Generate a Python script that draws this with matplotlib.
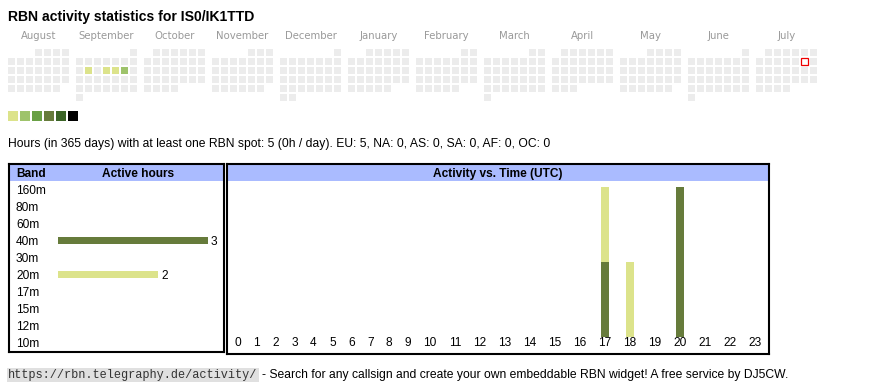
import datetime as dt
import numpy as np
import matplotlib
matplotlib.use('Agg')
import matplotlib.pyplot as plt
from matplotlib.patches import Rectangle

plt.rcParams['font.family'] = 'Liberation Sans'

W, H = 870, 390

callsign = 'IS0/IK1TTD'
months = ['August', 'September', 'October', 'November', 'December', 'January',
          'February', 'March', 'April', 'May', 'June', 'July']
first_year, first_month = 2024, 8
today = '2025-07-12'

active_days = ['2024-09-10', '2024-09-12', '2024-09-13', '2024-09-14']
active_day_hours = [1, 1, 1, 2]

level_colors = ['#dce38b', '#9ec36b', '#69a045', '#667b3b', '#3b6426', '#000000']
empty_color = '#ececec'
header_blue = '#aabbff'

summary = ('Hours (in 365 days) with at least one RBN spot: 5 (0h / day). '
           'EU: 5, NA: 0, AS: 0, SA: 0, AF: 0, OC: 0')

bands = ['160m', '80m', '60m', '40m', '30m', '20m', '17m', '15m', '12m', '10m']
band_hours = [0, 0, 0, 3, 0, 2, 0, 0, 0, 0]
band_colors = {'40m': '#667b3b', '20m': '#dce38b'}

hour_labels = [str(h) for h in range(24)]
hours_40m = [0, 0, 0, 0, 0, 0, 0, 0, 0, 0, 0, 0, 0, 0, 0, 0, 0, 1, 0, 0, 2, 0, 0, 0]
hours_20m = [0, 0, 0, 0, 0, 0, 0, 0, 0, 0, 0, 0, 0, 0, 0, 0, 0, 1, 1, 0, 0, 0, 0, 0]

footer_url = 'https://rbn.telegraphy.de/activity/'
footer_text = '- Search for any callsign and create your own embeddable RBN widget! A free service by DJ5CW.'

FS = 8.6  # body text size


def px_axes(x0, y0, x1, y1):
    # axes placed in pixel coords of the 870x390 picture (y downwards)
    return fig.add_axes([x0 / W, 1 - y1 / H, (x1 - x0) / W, (y1 - y0) / H])


def ptext(x, y, s, **kw):
    return fig.text(x / W, 1 - y / H, s, va=kw.pop('va', 'baseline'), **kw)


fig = plt.figure(figsize=(W / 100, H / 100), dpi=100)

ptext(8, 20.5, f'RBN activity statistics for {callsign}', fontsize=10.1, fontweight='bold')

# --- calendar heatmap: one 7-column block per month, Monday first ---
ax_cal = px_axes(8, 49, 818, 121)
ax_cal.set_xlim(0, 810 / 9)
ax_cal.set_ylim(72 / 9, 0)
ax_cal.axis('off')

day_hours = {dt.date.fromisoformat(d): h for d, h in zip(active_days, active_day_hours)}
today_d = dt.date.fromisoformat(today)
cell = 7 / 9
y, m = first_year, first_month
for i, name in enumerate(months):
    first = dt.date(y, m, 1)
    nxt = dt.date(y + 1, 1, 1) if m == 12 else dt.date(y, m + 1, 1)
    x0 = i * 68 / 9
    d = first
    while d < nxt:
        k = d.day - 1 + first.weekday()
        col, row = k % 7, k // 7
        if d in day_hours:
            fc = level_colors[min(day_hours[d], len(level_colors)) - 1]
        else:
            fc = empty_color
        if d == today_d:
            ax_cal.add_patch(Rectangle((x0 + col, row), cell, cell, facecolor='white',
                                       edgecolor='#ee0000', linewidth=0.9))
        else:
            ax_cal.add_patch(Rectangle((x0 + col, row), cell, cell, facecolor=fc,
                                       edgecolor='none'))
        d += dt.timedelta(days=1)
    ax_cal.text(x0 + 61 / 18, -10 / 9, name, ha='center', va='baseline', color='#999999',
                fontsize=7.3, family='DejaVu Sans', clip_on=False)
    y, m = (y + 1, 1) if m == 12 else (y, m + 1)

for k, c in enumerate(level_colors):
    ax_cal.add_patch(Rectangle((12 * k / 9, 62 / 9), 10 / 9, 10 / 9, facecolor=c, edgecolor='none'))

ptext(8, 146.5, summary, fontsize=8.75)

# --- band table ---
row0, rowp = 189.5, 17
x_zero, px_hour = 58, 50
ax_b = px_axes(9, 164, 224.5, 352)
ax_b.set_xlim((9 - x_zero) / px_hour, (224.5 - x_zero) / px_hour)
ax_b.set_ylim((352 - row0) / rowp, (164 - row0) / rowp)
ax_b.axhspan((164 - row0) / rowp, (181 - row0) / rowp, color=header_blue, zorder=0, lw=0)
ax_b.barh(range(len(bands)), band_hours, height=7 / rowp,
          color=[band_colors.get(b, '#667b3b') for b in bands])
hdr_y = (177 - row0) / rowp
ax_b.text((16 - x_zero) / px_hour, hdr_y, 'Band', fontweight='bold', fontsize=FS, va='baseline')
ax_b.text((138 - x_zero) / px_hour, hdr_y, 'Active hours', fontweight='bold', fontsize=FS,
          ha='center', va='baseline')
for i, (b, h) in enumerate(zip(bands, band_hours)):
    ax_b.text((16 - x_zero) / px_hour, i + 4.2 / rowp, b, fontsize=FS, va='baseline')
    if h > 0:
        ax_b.text(h + 3 / px_hour, i + 4.2 / rowp, str(h), fontsize=FS, va='baseline')

# --- activity vs time ---
y_zero, px_spot = 337, 75
ax_t = px_axes(227, 164, 769.3, 354)
ax_t.set_xlim(227, 769.3)
ax_t.set_ylim((y_zero - 354) / px_spot, (y_zero - 164) / px_spot)
ax_t.axhspan((y_zero - 181) / px_spot, (y_zero - 164) / px_spot, color=header_blue, zorder=0, lw=0)
widths = np.array([12.8 + 6.1 * len(l) for l in hour_labels])
centers = 229 + np.cumsum(widths) - widths / 2
bottom = np.zeros(24)
for band, series in [('40m', hours_40m), ('20m', hours_20m)]:
    ax_t.bar(centers, series, width=8, bottom=bottom, color=band_colors[band])
    bottom += np.array(series)
for c, l in zip(centers, hour_labels):
    ax_t.text(c - 0.5, (y_zero - 346.5) / px_spot, l, ha='center', va='baseline', fontsize=FS)
ax_t.text((227 + 769.3) / 2, (y_zero - 177) / px_spot, 'Activity vs. Time (UTC)',
          fontweight='bold', fontsize=FS, ha='center', va='baseline')

for ax in (ax_b, ax_t):
    ax.set_xticks([])
    ax.set_yticks([])
    for s in ax.spines.values():
        s.set_linewidth(1.5)
        s.set_color('black')

# --- footer ---
ptext(8, 378, footer_url, fontsize=8.6, family='Liberation Mono', color='#333333',
      bbox=dict(boxstyle='square,pad=0.12', facecolor='#e0e0e0', edgecolor='none'))
ptext(262, 378, footer_text, fontsize=8.75)

fig.savefig('out.png', dpi=100)
